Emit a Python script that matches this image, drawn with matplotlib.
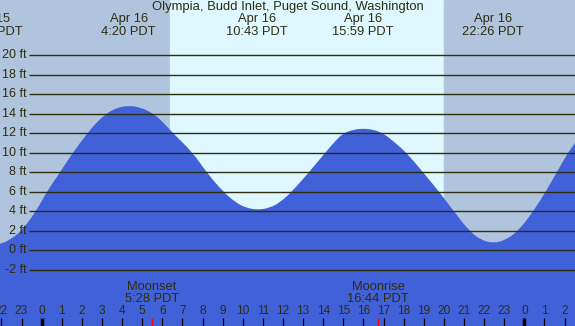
import matplotlib
matplotlib.use("Agg")
from matplotlib import pyplot as plt
from matplotlib.path import Path
from matplotlib.patches import PathPatch

plt.rcParams['font.family'] = ['Liberation Sans', 'DejaVu Sans']

# tide height (ft), hours from midnight Apr 16
tide_hours = [-2.6, -2.07, -1.5, -1.0, -0.28, 0.25, 0.91, 1.54, 2.27, 2.72, 3.2, 3.75, 4.35,
              4.95, 5.58, 6.06, 6.54, 7.53, 8.2, 9.03, 9.65, 10.15, 10.75, 11.35, 11.85,
              12.43, 13.29, 14.09, 14.53, 14.97, 15.5, 15.99, 16.5, 17.0, 17.57, 18.15,
              18.97, 19.77, 20.5, 21.26, 21.86, 22.46, 23.06, 23.7, 24.44, 25.06, 25.61,
              26.16, 26.52, 26.9]
tide_ft = [0.5, 0.6, 1.2, 2.0, 4.0, 6.0, 8.0, 10.0, 12.0, 13.1, 14.0, 14.64, 14.85,
           14.64, 14.0, 13.1, 12.0, 10.0, 8.0, 6.0, 4.92, 4.38, 4.15, 4.38, 4.92,
           6.0, 8.0, 10.0, 11.05, 12.0, 12.38, 12.5, 12.38, 12.0, 11.05, 10.0,
           8.0, 6.0, 4.0, 2.0, 1.06, 0.74, 1.06, 2.0, 4.0, 6.0, 8.0,
           10.0, 11.0, 12.0]

# high / low labels
event_hours = [-2.5, 4.33, 10.72, 15.98, 22.43]
event_dates = ["Apr 15", "Apr 16", "Apr 16", "Apr 16", "Apr 16"]
event_times = ["21:32 PDT", "4:20 PDT", "10:43 PDT", "15:59 PDT", "22:26 PDT"]

sunrise, sunset = 6.38, 20.03
moon_hours = [5.47, 16.73]
moon_names = ["Moonset", "Moonrise"]
moon_times = ["5:28 PDT", "16:44 PDT"]

levels = list(range(-2, 21, 2))
hours = list(range(-2, 27))

x0, x1 = -2.07, 26.52
y0, y1 = -7.74, 25.67
txt = "#2d2d0f"
night = "#b0c4de"
day = "#dff7ff"
water = "#4161d9"

fig = plt.figure(figsize=(5.75, 3.26), dpi=100)
ax = fig.add_axes([0, 0, 1, 1])
ax.set_xlim(x0, x1)
ax.set_ylim(y0, y1)
ax.axis("off")

ax.axvspan(x0, sunrise, color=night, zorder=0)
ax.axvspan(sunrise, sunset, color=day, zorder=0)
ax.axvspan(sunset, x1, color=night, zorder=0)

# smooth water area: quadratic curves through segment midpoints
pts = list(zip(tide_hours, tide_ft))
verts = [(pts[0][0], y0), pts[0]]
codes = [Path.MOVETO, Path.LINETO]
for i in range(1, len(pts) - 1):
    mid = ((pts[i][0] + pts[i + 1][0]) / 2, (pts[i][1] + pts[i + 1][1]) / 2)
    verts += [pts[i], mid]
    codes += [Path.CURVE3, Path.CURVE3]
verts += [pts[-1], (pts[-1][0], y0), (pts[0][0], y0)]
codes += [Path.LINETO, Path.LINETO, Path.CLOSEPOLY]
ax.add_patch(PathPatch(Path(verts, codes), facecolor=water, lw=0, zorder=1))

ax.hlines(levels, -0.63, x1, color=txt, lw=1.0, zorder=2)
for lv in levels:
    ax.text(-0.75, lv, "%d ft" % lv, ha="right", va="center", fontsize=9, color=txt, zorder=3)

tr = ax.get_xaxis_transform()
ax.text(0.5, 0.9776, "Olympia, Budd Inlet, Puget Sound, Washington", transform=ax.transAxes,
        ha="center", va="center", fontsize=9.4, color=txt)
for h, d, t in zip(event_hours, event_dates, event_times):
    ax.text(h, 0.9408, d, transform=tr, ha="center", va="center", fontsize=9.3, color=txt)
    ax.text(h, 0.9028, t, transform=tr, ha="center", va="center", fontsize=9.3, color=txt)
for h, n, t in zip(moon_hours, moon_names, moon_times):
    ax.text(h, 0.1187, n, transform=tr, ha="center", va="center", fontsize=9.3, color=txt)
    ax.text(h, 0.0819, t, transform=tr, ha="center", va="center", fontsize=9.3, color=txt)

for h in hours:
    ax.text(h, 0.0451, str(h % 24), transform=tr, ha="center", va="center", fontsize=8.6, color=txt)
    if h % 24 == 0:
        ax.vlines(h, 0, 0.026, transform=tr, color="black", lw=2.5)
    else:
        ax.vlines(h, 0, 0.026, transform=tr, color="black", lw=0.9)
ax.vlines(moon_hours, 0, 0.026, transform=tr, color="red", lw=1.0)

fig.savefig("out.png", dpi=100)
